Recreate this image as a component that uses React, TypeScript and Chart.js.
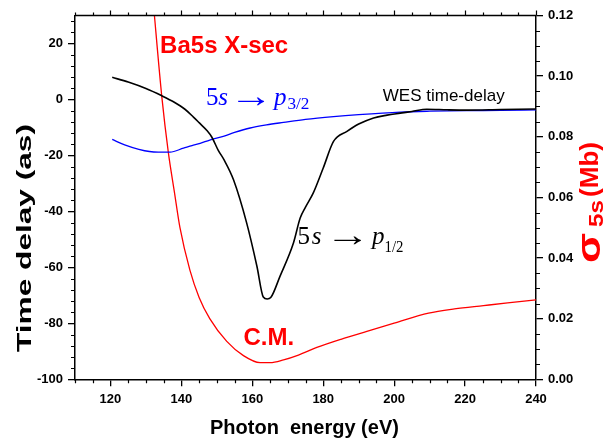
import { useEffect, useRef } from "react";
import { Chart, registerables } from "chart.js";
Chart.register(...registerables);

const SANS = "Arial, 'Liberation Sans', Helvetica, sans-serif";
const SERIF = "'Times New Roman', 'Liberation Serif', Times, serif";

// 5s -> p1/2 WES time delay (black, left axis)
const energyP12 = [120.5, 125, 130, 134.5, 138, 141, 143.4, 145, 147.2, 148.6, 150.4, 152, 154.7, 158.4, 161.3, 163.1, 164.2, 165.2, 167.8, 171.6, 173.5, 175, 177.2, 180, 182.9, 186.7, 190, 194.2, 198, 201.7, 205, 209.2, 215, 220.5, 230, 240];
const delayP12 = [7.9, 6.2, 3.9, 1.3, -1.0, -3.5, -6.3, -8.3, -11.1, -13.5, -18.2, -21.5, -28.7, -44.1, -59.6, -70.6, -71.3, -70.8, -63.2, -51.3, -42.4, -38.5, -33.4, -24.5, -15.0, -11.4, -8.8, -6.6, -5.6, -4.9, -4.3, -3.5, -3.7, -3.8, -3.6, -3.4];

// 5s -> p3/2 time delay (blue, left axis)
const energyP32 = [120.5, 124, 128, 131, 133.5, 136.8, 140.6, 143, 145.3, 148, 151.8, 155, 159.4, 164, 168.8, 175, 182.9, 190, 201.7, 210, 220.5, 230, 240];
const delayP32 = [-14.3, -16.2, -17.8, -18.6, -18.8, -18.8, -17.4, -16.5, -15.7, -14.5, -13.2, -11.8, -10.2, -9.1, -8.2, -7.1, -6.1, -5.4, -4.5, -4.2, -4.0, -3.9, -3.7];

// Ba 5s cross section (red, right axis, Mb)
const energyXsec = [131, 132.4, 134.5, 136.3, 138, 139.6, 142.4, 145, 148, 152.8, 157.5, 162.2, 165, 168.8, 173, 178.2, 185, 192.3, 200, 209.7, 217, 225.2, 232, 240];
const xsec5s = [0.139, 0.12, 0.093, 0.075, 0.062, 0.05, 0.036, 0.027, 0.02, 0.0125, 0.0078, 0.0055, 0.0055, 0.0064, 0.008, 0.0105, 0.0132, 0.0158, 0.0185, 0.0218, 0.0232, 0.0243, 0.0252, 0.0262];

const xTicks = [120, 140, 160, 180, 200, 220, 240];
const yLeftTicks = [-100, -80, -60, -40, -20, 0, 20];
const yRightTicks = [0, 0.02, 0.04, 0.06, 0.08, 0.1, 0.12];

const xRange = [110, 240];
const yLeftRange = [-100, 30];
const yRightRange = [0, 0.12];

const pts = (xs: number[], ys: number[]) => xs.map((x, i) => ({ x, y: ys[i] }));

function fitRotated(ctx: CanvasRenderingContext2D, text: string, font: string, color: string, baseX: number, startY: number, length: number) {
  ctx.save();
  ctx.font = font;
  ctx.fillStyle = color;
  ctx.textAlign = "left";
  ctx.textBaseline = "alphabetic";
  const w = ctx.measureText(text).width;
  ctx.translate(baseX, startY);
  ctx.rotate(-Math.PI / 2);
  ctx.scale(length / w, 1);
  ctx.fillText(text, 0, 0);
  ctx.restore();
}

// each part: ink starts at x0+dx; optional ink width w (horizontal scale)
type Part = { t: string; dx: number; font: string; dy?: number; w?: number };
function rich(ctx: CanvasRenderingContext2D, x0: number, base: number, color: string, parts: Part[]) {
  ctx.save();
  ctx.fillStyle = color;
  ctx.textAlign = "left";
  ctx.textBaseline = "alphabetic";
  for (const p of parts) {
    ctx.font = p.font;
    const m = ctx.measureText(p.t);
    const inkL = m.actualBoundingBoxLeft;
    const inkW = m.actualBoundingBoxLeft + m.actualBoundingBoxRight;
    const k = p.w ? p.w / inkW : 1;
    ctx.save();
    ctx.translate(x0 + p.dx, base + (p.dy || 0));
    ctx.scale(k, 1);
    ctx.fillText(p.t, inkL, 0);
    ctx.restore();
  }
  ctx.restore();
}

const decor = {
  id: "decor",
  afterDraw(chart: any) {
    const ctx: CanvasRenderingContext2D = chart.ctx;
    const { left, right, top, bottom } = chart.chartArea;
    const sx = chart.scales.x, sy = chart.scales.y, sy1 = chart.scales.y1;
    ctx.save();
    ctx.strokeStyle = "#000";
    ctx.lineWidth = 1.2;
    ctx.beginPath();
    for (let v = xRange[0]; v <= xRange[1]; v += 5) {
      const px = Math.round(sx.getPixelForValue(v)) + 0.5;
      const major = xTicks.includes(v);
      if (!major) {
        ctx.moveTo(px, bottom);
        ctx.lineTo(px, bottom + 4);
      }
      ctx.moveTo(px, top);
      ctx.lineTo(px, top - (major ? 5 : 3));
    }
    for (let v = yLeftRange[0]; v <= yLeftRange[1]; v += 4) {
      if (yLeftTicks.includes(v)) continue;
      const py = Math.round(sy.getPixelForValue(v)) + 0.5;
      ctx.moveTo(left, py);
      ctx.lineTo(left - 4, py);
    }
    for (let i = 0; i <= 24; i++) {
      if (i % 4 === 0) continue;
      const py = Math.round(sy1.getPixelForValue(i * 0.005)) + 0.5;
      ctx.moveTo(right, py);
      ctx.lineTo(right + 4, py);
    }
    ctx.stroke();
    ctx.lineWidth = 1.5;
    ctx.beginPath();
    ctx.moveTo(left, top);
    ctx.lineTo(right, top);
    ctx.stroke();
    ctx.restore();

    // axis titles
    ctx.save();
    ctx.fillStyle = "#000";
    ctx.font = `bold 20px ${SANS}`;
    ctx.textAlign = "left";
    ctx.textBaseline = "alphabetic";
    ctx.fillText("Photon  energy (eV)", 210, 434);
    ctx.restore();
    fitRotated(ctx, "Time delay (as)", `bold 20px ${SANS}`, "#000", 31, 352, 228);
    fitRotated(ctx, "σ", `bold 34px ${SANS}`, "#ff0000", 600, 263, 30);
    fitRotated(ctx, "5s", `bold 21px ${SANS}`, "#ff0000", 603, 227, 27);
    fitRotated(ctx, "(Mb)", `bold 25px ${SANS}`, "#ff0000", 598, 197, 55);

    // annotations anchored to data coordinates
    ctx.save();
    ctx.textAlign = "left";
    ctx.textBaseline = "alphabetic";
    ctx.fillStyle = "#ff0000";
    ctx.font = `bold 24px ${SANS}`;
    ctx.fillText("Ba5s X-sec", sx.getPixelForValue(134.0), sy.getPixelForValue(16.6));
    ctx.fillText("C.M.", sx.getPixelForValue(157.5), sy.getPixelForValue(-87.6));
    ctx.fillStyle = "#000";
    ctx.font = `17px ${SANS}`;
    ctx.fillText("WES time-delay", sx.getPixelForValue(196.8), sy.getPixelForValue(-0.7));
    ctx.restore();

    const big = `25px ${SERIF}`;
    const bigI = `italic 25px ${SERIF}`;
    const arrowFont = `34px ${SERIF}`;
    const sub = `16px ${SERIF}`;
    rich(ctx, sx.getPixelForValue(147.2), sy.getPixelForValue(-1.9), "#0000ff", [
      { t: "5", dx: 0, font: big },
      { t: "s", dx: 11.3, font: bigI },
      { t: "\u2192", dx: 30, font: arrowFont, w: 28.3, dy: 2.5 },
      { t: "p", dx: 65, font: bigI },
      { t: "3/2", dx: 80.5, font: sub, dy: 4.5, w: 22 },
    ]);
    rich(ctx, sx.getPixelForValue(173.0), sy.getPixelForValue(-51.5), "#000", [
      { t: "5", dx: 0, font: big },
      { t: "s", dx: 13.4, font: bigI },
      { t: "\u2192", dx: 34.7, font: arrowFont, w: 29, dy: 2.5 },
      { t: "p", dx: 71.7, font: bigI },
      { t: "1/2", dx: 87, font: sub, dy: 8, w: 18 },
    ]);
  },
};

export default function App() {
  const ref = useRef<HTMLCanvasElement>(null);
  useEffect(() => {
    const tickFont = { family: SANS, size: 13, weight: "bold" as const };
    const gridOpts = { drawOnChartArea: false, drawTicks: true, tickLength: 7, color: "#000", tickColor: "#000", tickWidth: 1.3, lineWidth: 1.3 };
    const borderOpts = { display: true, color: "#000", width: 1.5 };
    const chart = new Chart(ref.current!, {
      type: "line",
      data: {
        datasets: [
          { label: "5s→p1/2", data: pts(energyP12, delayP12), borderColor: "#000", borderWidth: 1.6, yAxisID: "y", cubicInterpolationMode: "monotone", pointRadius: 0, fill: false },
          { label: "5s→p3/2", data: pts(energyP32, delayP32), borderColor: "#0000ff", borderWidth: 1.3, yAxisID: "y", cubicInterpolationMode: "monotone", pointRadius: 0, fill: false },
          { label: "Ba5s X-sec", data: pts(energyXsec, xsec5s), borderColor: "#ff0000", borderWidth: 1.3, yAxisID: "y1", cubicInterpolationMode: "monotone", pointRadius: 0, fill: false },
        ],
      },
      options: {
        animation: false,
        responsive: false,
        devicePixelRatio: 1,
        layout: { padding: { top: 15.5, left: 0, right: 0, bottom: 0 } },
        plugins: { legend: { display: false }, tooltip: { enabled: false } },
        scales: {
          x: {
            type: "linear",
            min: xRange[0],
            max: xRange[1],
            afterBuildTicks: (s: any) => { s.ticks = xTicks.map((v) => ({ value: v })); },
            afterFit: (s: any) => { s.height = 59.7; },
            grid: gridOpts,
            border: borderOpts,
            ticks: { color: "#000", font: tickFont, padding: 5, maxRotation: 0, autoSkip: false },
          },
          y: {
            type: "linear",
            position: "left",
            min: yLeftRange[0],
            max: yLeftRange[1],
            afterBuildTicks: (s: any) => { s.ticks = yLeftTicks.map((v) => ({ value: v })); },
            afterFit: (s: any) => { s.width = 75; },
            grid: gridOpts,
            border: borderOpts,
            ticks: { color: "#000", font: tickFont, padding: 5, autoSkip: false },
          },
          y1: {
            type: "linear",
            position: "right",
            min: yRightRange[0],
            max: yRightRange[1],
            afterBuildTicks: (s: any) => { s.ticks = yRightTicks.map((v) => ({ value: v })); },
            afterFit: (s: any) => { s.width = 78; },
            grid: gridOpts,
            border: borderOpts,
            ticks: { color: "#000", font: tickFont, padding: 5, autoSkip: false, callback: (v: any) => Number(v).toFixed(2) },
          },
        },
      },
      plugins: [decor],
    });
    return () => chart.destroy();
  }, []);
  return (
    <div style={{ position: "fixed", left: 0, top: 0, width: 614, height: 439, background: "#fff" }}>
      <canvas ref={ref} width={614} height={439} style={{ display: "block", width: 614, height: 439 }} />
    </div>
  );
}
